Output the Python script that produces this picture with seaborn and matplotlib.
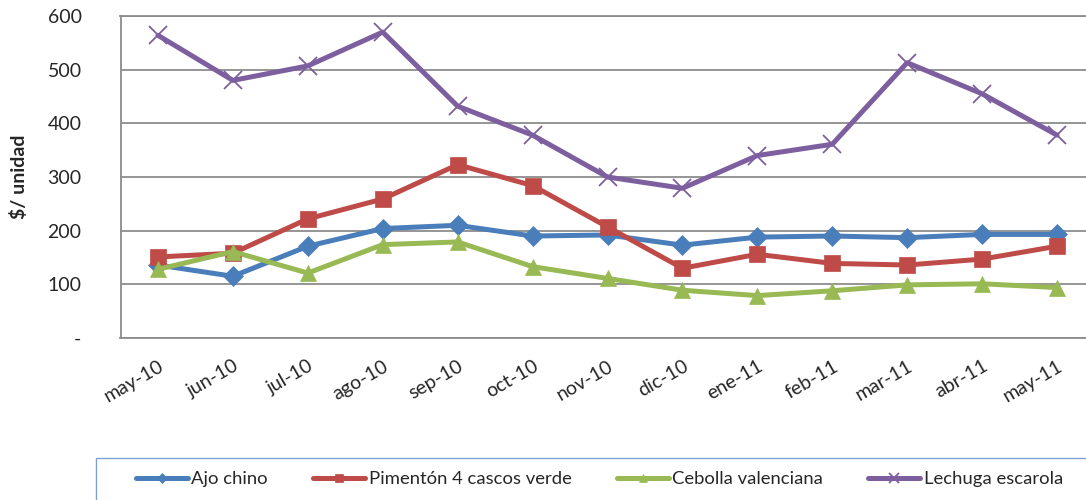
import matplotlib.pyplot as plt
import pandas as pd
import seaborn as sns
from matplotlib.patches import Rectangle

# Monthly prices ($/unidad).
months = ['may-10', 'jun-10', 'jul-10', 'ago-10', 'sep-10', 'oct-10', 'nov-10',
          'dic-10', 'ene-11', 'feb-11', 'mar-11', 'abr-11', 'may-11']
ajo_chino = [136, 115, 171, 204, 210, 190, 192, 173, 188, 190, 187, 193, 193]
pimenton = [151, 158, 222, 259, 323, 284, 207, 130, 156, 139, 136, 147, 171]
cebolla = [128, 161, 121, 174, 179, 133, 111, 89, 79, 88, 99, 101, 94]
lechuga = [564, 480, 507, 570, 432, 378, 300, 279, 340, 361, 513, 455, 378]

series = {
    'Ajo chino': ajo_chino,
    'Pimentón 4 cascos verde': pimenton,
    'Cebolla valenciana': cebolla,
    'Lechuga escarola': lechuga,
}
colors = ['#4A7EBB', '#BE4B48', '#98B954', '#7D5FA0']
markers = ['D', 's', '^', 'x']
sizes = [10, 11, 11, 13]

rows = []
for name, vals in series.items():
    for i, v in enumerate(vals):
        rows.append({'pos': i, 'Producto': name, 'Precio': v})
df = pd.DataFrame(rows)

sns.set_theme(style='white')
plt.rcParams['font.family'] = ['Lato', 'DejaVu Sans']

fig = plt.figure(figsize=(10.86, 5), dpi=100)
ax = fig.add_axes([120.5 / 1086, 162 / 500, 974 / 1086, 322 / 500])

for (name, vals), c, m, s in zip(series.items(), colors, markers, sizes):
    sub = df[df['Producto'] == name]
    sns.lineplot(data=sub, x='pos', y='Precio', ax=ax, color=c, marker=m,
                 markersize=s, linewidth=3.6, label=name,
                 markeredgecolor=c, markeredgewidth=1.3 if m == 'x' else 0.5,
                 legend=False)

ax.set_xlim(-0.5, len(months) - 0.5)
ax.set_ylim(0, 600)
ax.set_yticks(range(0, 601, 100))
ax.set_yticklabels(['-'] + [str(v) for v in range(100, 601, 100)])
ax.set_xticks(range(len(months)))
ax.set_xticklabels(months, rotation=30, ha='right', rotation_mode='anchor')
ax.yaxis.grid(True, color='#8C8C8C', linewidth=1.3)
ax.set_axisbelow(True)
for side in ['left', 'bottom', 'top']:
    ax.spines[side].set_color('#8C8C8C')
    ax.spines[side].set_linewidth(1.3)
ax.spines['right'].set_visible(False)
ax.tick_params(axis='y', length=0, pad=28, labelsize=14)
ax.tick_params(axis='x', length=0, pad=14, labelsize=14)
ax.set_xlabel('')
ax.set_ylabel('\\$/ unidad', fontsize=14, fontweight='bold', labelpad=14)

# Legend box runs off the right and bottom edge of the figure.
fig.patches.append(Rectangle((96 / 1086, -0.05), 1.0, (42 / 500) + 0.05,
                             transform=fig.transFigure, fill=False,
                             edgecolor='#7FA3CF', linewidth=1.0))
handles, labels = ax.get_legend_handles_labels()
leg = fig.legend(handles, labels, loc='center left', ncol=4,
                 bbox_to_anchor=(136 / 1086, 21 / 500),
                 fontsize=13.3, frameon=False, markerscale=0.5,
                 handlelength=2.8, handletextpad=0.2, columnspacing=2.45,
                 borderpad=0, borderaxespad=0)

fig.savefig('out.png', dpi=100)
